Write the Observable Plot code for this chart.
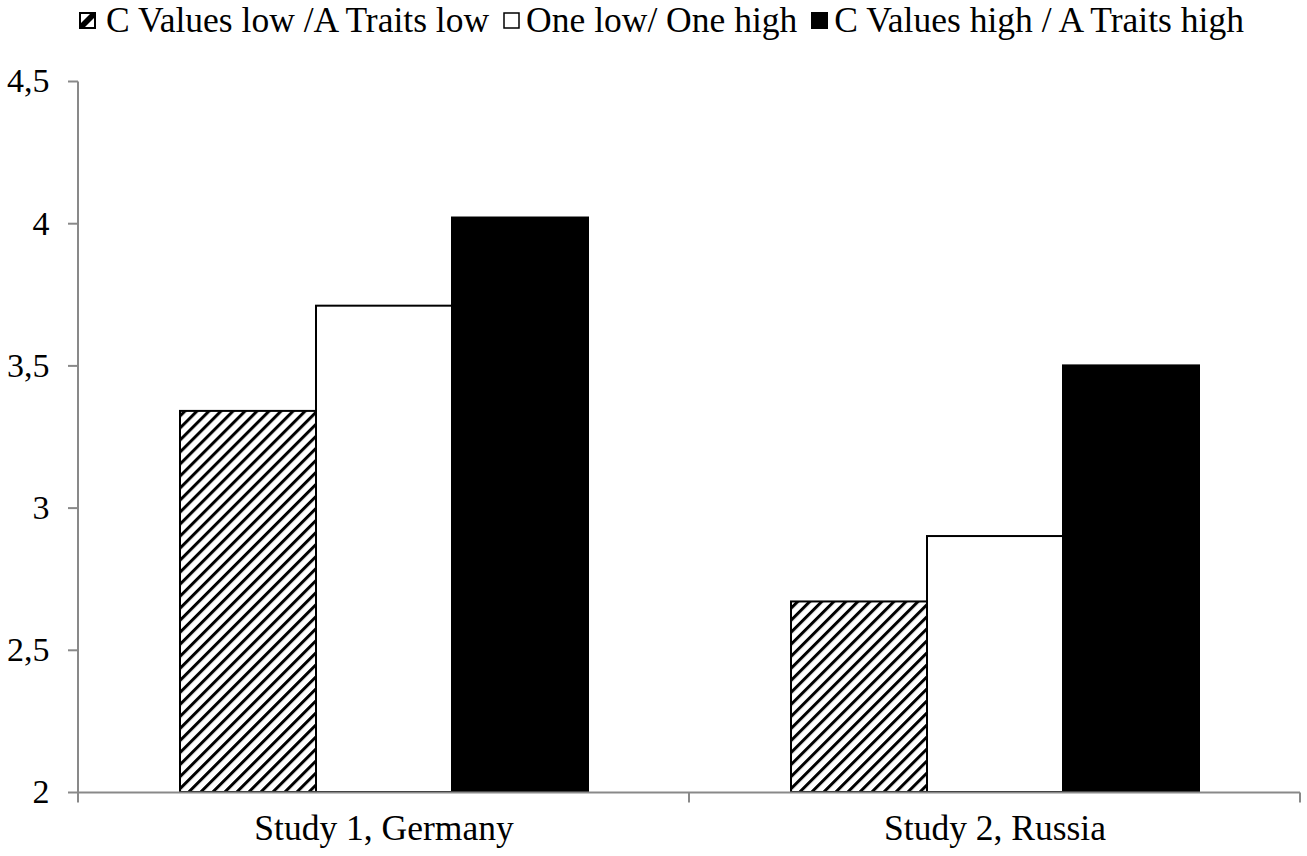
<!DOCTYPE html>
<html>
<head>
<meta charset="utf-8">
<script src="https://cdn.jsdelivr.net/npm/d3@7"></script>
<script src="https://cdn.jsdelivr.net/npm/@observablehq/plot@0.6"></script>
<style>
  html, body { margin: 0; padding: 0; background: #fff; overflow: hidden; }
  #legend { display: flex; justify-content: center; align-items: center; height: 40px; padding-left: 16px;
    font-family: "Liberation Serif", serif; font-size: 35.5px; color: #000; white-space: nowrap; }
  #legend .item { display: flex; align-items: center; margin: 0 7px; }
  #legend svg { margin-right: 6px; }
  #legend .item:first-child svg { margin-right: 10px; }
</style>
</head>
<body>
<div id="legend"></div>
<div id="chart"></div>
<script>
const studies = ["Study 1, Germany", "Study 2, Russia"];
const series = ["C Values low /A Traits low", "One low/ One high", "C Values high / A Traits high"];
const germanyValues = [3.34, 3.71, 4.02];
const russiaValues = [2.67, 2.90, 3.50];
const yTicks = [2, 2.5, 3, 3.5, 4, 4.5];
const fills = ["url(#hatch)", "white", "black"];

const data = [];
[germanyValues, russiaValues].forEach((vals, si) => {
  vals.forEach((v, k) => data.push({study: studies[si], series: series[k], value: v}));
});

const yMin = yTicks[0];
const axisColor = "#898989";

const frameLines = Plot.ruleY(studies, {
  fx: d => d,
  y: () => yMin,
  stroke: axisColor,
  strokeWidth: 2,
  render(index, scales, values, dimensions, context, next) {
    const g = next(index, scales, values, dimensions, context);
    const r = scales.x.range();
    const x0 = r[0], x1 = r[1];
    const yb = scales.y(yMin), yt = scales.y(yTicks[yTicks.length - 1]);
    const study = studies[index[0]];
    const sel = d3.select(g);
    const line = (xa, ya, xb, yb2) => sel.append("line")
      .attr("x1", xa).attr("y1", ya).attr("x2", xb).attr("y2", yb2)
      .attr("stroke", axisColor).attr("stroke-width", 2);
    if (study === studies[0]) line(x0, yt, x0, yb + 10);
    else line(x0, yb, x0, yb + 10);
    if (study === studies[studies.length - 1]) line(x1, yb, x1, yb + 10);
    return g;
  }
});

const chart = Plot.plot({
  width: 1307,
  height: 816,
  marginTop: 41,
  marginBottom: 64,
  marginLeft: 77,
  marginRight: 7,
  style: {fontFamily: "Liberation Serif", fontSize: "35px", color: "#000", background: "#fff"},
  fx: {domain: studies, padding: 0, label: null},
  x: {domain: series, paddingInner: 0, paddingOuter: 0.746, axis: null},
  y: {domain: [yMin, yTicks[yTicks.length - 1]], label: null},
  color: {type: "ordinal", domain: series, range: fills},
  marks: [
    Plot.barY(data, {fx: "study", x: "series", y1: () => yMin, y2: "value", fill: "series", stroke: "black", strokeWidth: 2}),
    frameLines,
    Plot.axisY({ticks: yTicks, tickFormat: d => String(d).replace(".", ","), tickSize: 10, tickPadding: 19,
      fontSize: 34, stroke: axisColor, strokeWidth: 2, label: null}),
    Plot.axisFx({anchor: "bottom", tickSize: 0, tickPadding: 22, fontSize: 35.5, label: null})
  ]
});

const defs = d3.select(chart).insert("defs", ":first-child");
const pat = defs.append("pattern").attr("id", "hatch").attr("patternUnits", "userSpaceOnUse")
  .attr("width", 8.5).attr("height", 8.5).attr("patternTransform", "rotate(45)");
pat.append("rect").attr("width", 8.5).attr("height", 8.5).attr("fill", "white");
pat.append("rect").attr("width", 3).attr("height", 8.5).attr("fill", "black");
document.getElementById("chart").appendChild(chart);

// legend
const legend = d3.select("#legend");
series.forEach((s, k) => {
  const item = legend.append("div").attr("class", "item");
  const sw = item.append("svg").attr("width", 17).attr("height", 17);
  if (k === 0) {
    sw.append("rect").attr("x", 1).attr("y", 1).attr("width", 15).attr("height", 15).attr("fill", "white").attr("stroke", "black").attr("stroke-width", 2);
    sw.append("polygon").attr("points", "2,11 11,2 15,2 15,6 6,15 2,15").attr("fill", "black");
  } else if (k === 1) {
    sw.append("rect").attr("x", 1).attr("y", 1).attr("width", 15).attr("height", 15).attr("fill", "white").attr("stroke", "black").attr("stroke-width", 1.5);
  } else {
    sw.append("rect").attr("x", 0).attr("y", 0).attr("width", 17).attr("height", 17).attr("fill", "black");
  }
  item.append("span").text(s);
});
</script>
</body>
</html>
